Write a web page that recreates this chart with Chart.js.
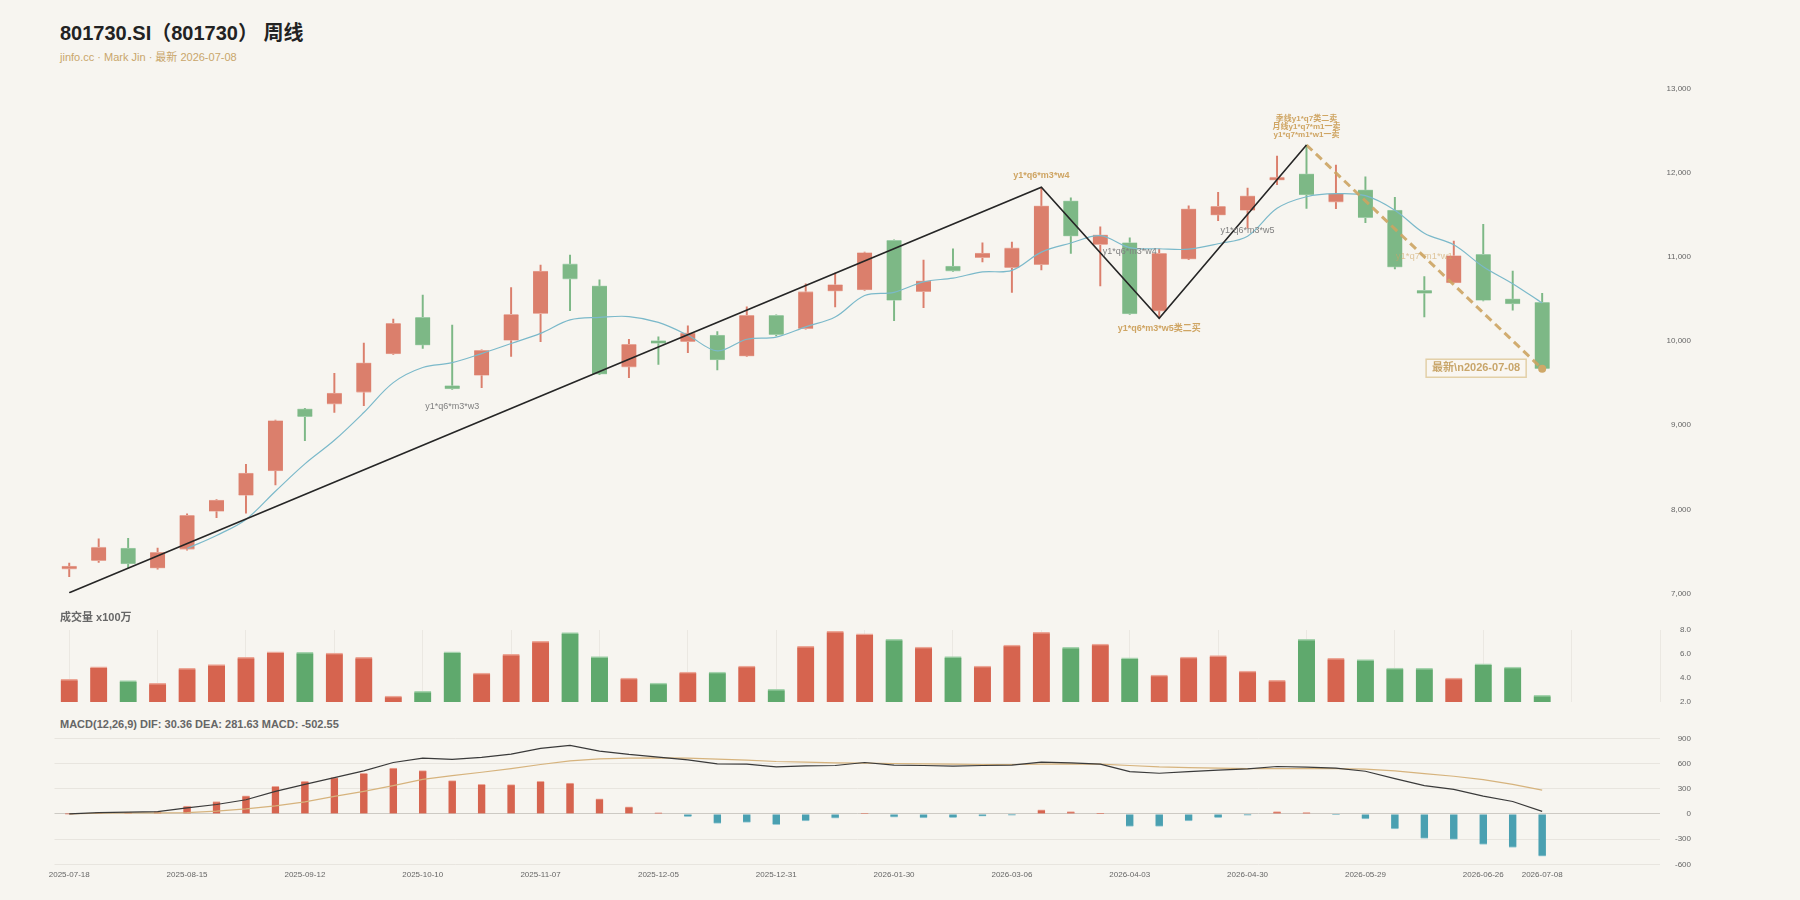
<!DOCTYPE html>
<html lang="zh-CN">
<head>
<meta charset="utf-8">
<title>801730.SI 周线</title>
<script src="https://cdn.jsdelivr.net/npm/chart.js@4.4.1/dist/chart.umd.min.js"></script>
<style>
  html, body { margin: 0; padding: 0; background: #f7f5f0; }
  body { width: 1800px; height: 900px; position: relative; overflow: hidden;
         font-family: "Liberation Sans", Arial, "Noto Sans CJK SC", sans-serif; }
  .title { position: absolute; left: 60px; top: 21px; font-size: 20px; line-height: 24px; font-weight: bold; color: #222; }
  .sub { position: absolute; left: 60px; top: 50px; font-size: 11px; line-height: 15px; color: #c9a66b; }
  .panel-title { position: absolute; left: 60px; font-size: 11px; line-height: 14px; font-weight: bold; color: #666; }
  .box { position: absolute; left: 0; width: 1800px; }
  canvas { display: block; }
</style>
</head>
<body>
<div class="title">801730.SI（801730） 周线</div>
<div class="sub">jinfo.cc · Mark Jin · 最新 2026-07-08</div>
<div class="box" style="top:70px;height:550px"><canvas id="price"></canvas></div>
<div class="panel-title" style="top:610px">成交量 x100万</div>
<div class="box" style="top:620px;height:90px"><canvas id="vol"></canvas></div>
<div class="panel-title" style="top:717px">MACD(12,26,9) DIF: 30.36 DEA: 281.63 MACD: -502.55</div>
<div class="box" style="top:730px;height:170px"><canvas id="macd"></canvas></div>

<script>
// weekly bars
const dates = ['2025-07-18','2025-07-25','2025-08-01','2025-08-08','2025-08-15','2025-08-22','2025-08-29','2025-09-05',
  '2025-09-12','2025-09-19','2025-09-26','2025-09-30','2025-10-10','2025-10-17','2025-10-24','2025-10-31',
  '2025-11-07','2025-11-14','2025-11-21','2025-11-28','2025-12-05','2025-12-12','2025-12-19','2025-12-26',
  '2025-12-31','2026-01-09','2026-01-16','2026-01-23','2026-01-30','2026-02-06','2026-02-13','2026-02-27',
  '2026-03-06','2026-03-13','2026-03-20','2026-03-27','2026-04-03','2026-04-10','2026-04-17','2026-04-24',
  '2026-04-30','2026-05-08','2026-05-15','2026-05-22','2026-05-29','2026-06-05','2026-06-12','2026-06-18',
  '2026-06-26','2026-07-03','2026-07-08'];
const openP = [7290,7390,7540,7300,7525,7975,8165,8455,9195,9250,9390,9845,10280,9470,9590,10005,10325,10915,10655,9690,
  9990,9990,10070,9820,10305,10145,10590,10605,11195,10585,10890,10990,10870,10905,11665,11145,11170,10355,10970,11495,
  11550,11910,11985,11650,11795,11555,10600,10690,11030,10500,10460];
const closeP = [7320,7550,7350,7490,7930,8110,8430,9055,9100,9380,9740,10210,9950,9430,9890,10315,10830,10735,9605,9960,
  9970,10095,9775,10305,10075,10585,10670,11050,10480,10715,10830,11045,11105,11605,11245,11260,10320,11040,11570,11600,
  11725,11935,11735,11750,11465,10875,10565,11015,10480,10440,9670];
const highP = [7360,7650,7655,7540,7945,8115,8535,9060,9200,9615,9975,10260,10545,10190,9895,10635,10900,11020,10725,10020,
  10050,10180,10110,10405,10310,10680,10805,11055,11200,10960,11095,11165,11175,11825,11700,11355,11225,11090,11605,11765,
  11815,12195,12328,12090,11950,11705,10765,11185,11385,10830,10565];
const lowP = [7200,7370,7300,7290,7515,7900,7955,8290,8815,9150,9230,9840,9910,9425,9445,9815,9990,10360,9600,9565,
  9720,9860,9655,9815,10060,10140,10405,10600,10240,10395,10825,10940,10575,10845,11040,10655,10315,10270,10965,11430,
  11340,11855,11575,11570,11405,10855,10285,10690,10475,10365,9670];
const ma5 = [null,null,null,null,7535,7690,7880,8215,8540,8820,9150,9505,9685,9742,9850,9970,10090,10250,10280,10290,
  10220,10068,9882,10020,10046,10168,10285,10540,10578,10702,10747,10820,10838,11055,11163,11250,11108,11095,11090,11155,
  11245,11575,11713,11749,11726,11553,11279,11142,10882,10680,10450];
const volume = [3.89,4.94,3.78,3.56,4.81,5.11,5.72,6.19,6.14,6.08,5.72,2.5,2.89,6.19,4.42,5.97,7.06,7.78,5.78,4.0,
  3.58,4.5,4.5,5.0,3.06,6.64,7.89,7.69,7.22,6.58,5.78,5.0,6.75,7.81,6.56,6.83,5.69,4.25,5.75,5.86,
  4.58,3.81,7.22,5.64,5.53,4.83,4.81,4.0,5.19,4.92,2.56];
const dif = [0,16,20,28,72,112,168,268,352,432,512,612,664,648,672,712,780,816,748,708,
  676,644,596,592,560,572,576,612,580,576,568,576,580,616,608,592,504,484,504,520,
  536,564,556,544,508,420,336,292,212,148,30];
const dea = [0,8,12,12,16,32,60,96,144,208,268,336,412,456,496,540,588,632,656,664,
  668,664,652,640,624,616,608,604,600,596,592,588,588,592,596,592,576,560,552,544,
  540,540,540,540,532,512,480,448,408,352,282];
const macdHist = [0,16,16,28,92,148,216,328,388,432,484,544,516,396,352,348,388,368,180,84,
  12,-32,-112,-100,-128,-84,-52,8,-40,-48,-44,-28,-16,48,28,2,-148,-148,-84,-44,
  -16,28,16,-4,-60,-180,-292,-304,-364,-400,-503];

// zigzag strokes
const zigIdx = [0, 33, 37, 42];
const zigVal = [7010, 11825, 10270, 12328];
const legIdx = [42, 50];
const legVal = [12328, 9670];

// axis ticks
const xLabelIdx = [0,4,8,12,16,20,24,28,32,36,40,44,48,50];
const volGridIdx = [0,3,6,9,12,15,18,21,24,27,30,33,36,39,42,45,48,51,54];

// chart notes: candle index, price, text, kind
const notes = [
  [13, 9220, 'y1*q6*m3*w3', 'gray'],
  [33, 11960, 'y1*q6*m3*w4', 'gold'],
  [36, 11057, 'y1*q6*m3*w4', 'gray'],
  [37, 10151, 'y1*q6*m3*w5类二买', 'gold'],
  [40, 11306, 'y1*q6*m3*w5', 'gray'],
  [42, 12633, '季线y1*q7类二卖', 'goldSmall'],
  [42, 12538, '月线y1*q7*m1一卖', 'goldSmall'],
  [42, 12443, 'y1*q7*m1*w1一卖', 'goldSmall'],
  [46, 11010, 'y1*q7*m1*w1', 'faint']
];

Chart.defaults.font.family = '"Liberation Sans", Arial, "Noto Sans CJK SC", sans-serif';
Chart.defaults.color = '#666';

const idx = dates.map((d, i) => i);
const isUp = i => closeP[i] >= openP[i];
const tickFont = { size: 8 };

function baseX(extra) {
  return Object.assign({
    type: 'linear', min: -0.5, max: 54, offset: false, display: false,
    grid: { display: false, offset: false }, border: { display: false }
  }, extra);
}
function rightY(extra, ticks) {
  return Object.assign({
    position: 'right',
    border: { display: false },
    grid: { display: false, drawTicks: false },
    ticks: Object.assign({ crossAlign: 'far', color: '#666', font: tickFont }, ticks),
    afterFit: s => { s.width = 31; }
  }, extra);
}
const common = {
  responsive: true, maintainAspectRatio: false, animation: false, events: [],
  plugins: { legend: { display: false }, tooltip: { enabled: false } }
};

const noteStyle = {
  gray: ['9px "Liberation Sans", "Noto Sans CJK SC", sans-serif', '#808080'],
  gold: ['bold 9px "Liberation Sans", "Noto Sans CJK SC", sans-serif', '#cfa563'],
  goldSmall: ['bold 8px "Liberation Sans", "Noto Sans CJK SC", sans-serif', '#cfa563'],
  faint: ['9.5px "Liberation Sans", "Noto Sans CJK SC", sans-serif', 'rgba(207,165,99,0.6)']
};

const notesPlugin = {
  id: 'notes',
  afterDatasetsDraw(chart) {
    const { ctx, scales: { x, y } } = chart;
    ctx.save();
    ctx.textAlign = 'center';
    ctx.textBaseline = 'middle';
    notes.forEach(n => {
      const st = noteStyle[n[3]];
      ctx.font = st[0];
      ctx.fillStyle = st[1];
      ctx.fillText(n[2], x.getPixelForValue(n[0]), y.getPixelForValue(n[1]));
    });

    // latest label box
    const last = dates.length - 1;
    const px = x.getPixelForValue(last);
    const py = y.getPixelForValue(closeP[last]);
    const txt = '最新\\n' + dates[last];
    ctx.font = 'bold 11px "Liberation Sans", "Noto Sans CJK SC", sans-serif';
    const w = ctx.measureText(txt).width + 12;
    const h = 18;
    const right = px - 16;
    ctx.fillStyle = 'rgba(248,246,241,0.9)';
    ctx.fillRect(right - w, py - h / 2 - 0.5, w, h);
    ctx.strokeStyle = '#e3d0a8';
    ctx.lineWidth = 1.5;
    ctx.strokeRect(right - w, py - h / 2 - 0.5, w, h);
    ctx.fillStyle = '#c9a66b';
    ctx.fillText(txt, right - w / 2, py - 0.5);
    ctx.restore();
  }
};

// price panel
new Chart(document.getElementById('price'), {
  type: 'bar',
  data: {
    datasets: [
      {
        type: 'line', order: 0,
        data: zigIdx.map((v, k) => ({ x: v, y: zigVal[k] })),
        borderColor: '#262626', borderWidth: 1.6, pointRadius: 0
      },
      {
        type: 'line', order: 0,
        data: legIdx.map((v, k) => ({ x: v, y: legVal[k] })),
        borderColor: 'rgba(204,164,98,0.9)', borderWidth: 3, borderDash: [8, 5],
        pointRadius: c => c.dataIndex === 1 ? 4 : 0,
        pointBackgroundColor: '#cfa868', pointBorderWidth: 0
      },
      {
        type: 'line', order: 1,
        data: idx.map(i => ({ x: i, y: ma5[i] })),
        borderColor: '#7bb9ca', borderWidth: 1.2, pointRadius: 0, tension: 0.35
      },
      {
        order: 2,
        data: idx.map(i => ({ x: i, y: [openP[i], closeP[i]] })),
        backgroundColor: idx.map(i => isUp(i) ? '#db7f6c' : '#7db886'),
        borderColor: idx.map(i => isUp(i) ? '#eab2a5' : '#acd4b4'),
        borderWidth: { top: 0.8, bottom: 0.8, left: 0, right: 0 }, borderSkipped: false,
        barThickness: 15, maxBarThickness: 15, grouped: false, minBarLength: 3
      },
      {
        order: 3,
        data: idx.map(i => ({ x: i, y: [lowP[i], highP[i]] })),
        backgroundColor: idx.map(i => isUp(i) ? '#db7f6c' : '#7db886'),
        barThickness: 1.3, maxBarThickness: 1.3, grouped: false
      }
    ]
  },
  options: Object.assign({}, common, {
    layout: { padding: { left: 54.5, right: 109, top: 18.4, bottom: 26.5 } },
    scales: {
      x: baseX(),
      y: rightY({ min: 7000, max: 13000 }, { stepSize: 1000, callback: v => v.toLocaleString('en-US') })
    }
  }),
  plugins: [notesPlugin]
});

// volume panel
new Chart(document.getElementById('vol'), {
  type: 'bar',
  data: {
    datasets: [{
      data: idx.map(i => ({ x: i, y: volume[i] })),
      backgroundColor: idx.map(i => isUp(i) ? '#d6644f' : '#5fa96d'),
      borderColor: idx.map(i => isUp(i) ? '#eca797' : '#a6d3ae'),
      borderWidth: { top: 1.5, bottom: 0, left: 0, right: 0 }, borderSkipped: 'start',
      barThickness: 17, maxBarThickness: 17, grouped: false
    }]
  },
  options: Object.assign({}, common, {
    layout: { padding: { left: 54.5, right: 109, top: 10, bottom: 8 } },
    scales: {
      x: baseX({
        display: true,
        grid: { display: true, color: '#ebe8e2', drawTicks: false, offset: false },
        ticks: { display: false },
        afterBuildTicks: s => { s.ticks = volGridIdx.map(v => ({ value: v })); },
        afterFit: s => { s.height = 0; }
      }),
      y: rightY({ min: 2, max: 8 }, { stepSize: 2, callback: v => v.toFixed(1) })
    }
  })
});

// MACD panel
new Chart(document.getElementById('macd'), {
  type: 'bar',
  data: {
    datasets: [
      {
        type: 'line', order: 0,
        data: idx.map(i => ({ x: i, y: dif[i] })),
        borderColor: '#3a3a3a', borderWidth: 1.2, pointRadius: 0
      },
      {
        type: 'line', order: 0,
        data: idx.map(i => ({ x: i, y: dea[i] })),
        borderColor: '#d6b37d', borderWidth: 1.2, pointRadius: 0
      },
      {
        order: 1,
        data: idx.map(i => ({ x: i, y: macdHist[i] })),
        backgroundColor: macdHist.map(v => v >= 0 ? '#d6644f' : '#4aa0b1'),
        borderColor: macdHist.map(v => v >= 0 ? '#eca899' : '#9ccbd4'),
        borderWidth: { top: 1, bottom: 1, left: 0, right: 0 }, borderSkipped: 'start',
        barThickness: 7.5, maxBarThickness: 7.5, grouped: false
      }
    ]
  },
  options: Object.assign({}, common, {
    layout: { padding: { left: 54.5, right: 109, top: 8.3, bottom: 17.7 } },
    scales: {
      x: baseX({
        display: true,
        grid: { display: false, drawTicks: false, tickLength: 0 },
        ticks: {
          autoSkip: false, maxRotation: 0, minRotation: 0, padding: 6,
          color: '#666', font: tickFont,
          callback: v => dates[v] || ''
        },
        afterBuildTicks: s => { s.ticks = xLabelIdx.map(v => ({ value: v })); },
        afterFit: s => { s.height = 18; }
      }),
      y: rightY({
        min: -600, max: 900,
        grid: {
          display: true, drawTicks: false,
          color: c => c.tick && c.tick.value === 0 ? '#cdcac4' : '#e8e5df'
        }
      }, { stepSize: 300 })
    }
  })
});
</script>
</body>
</html>
